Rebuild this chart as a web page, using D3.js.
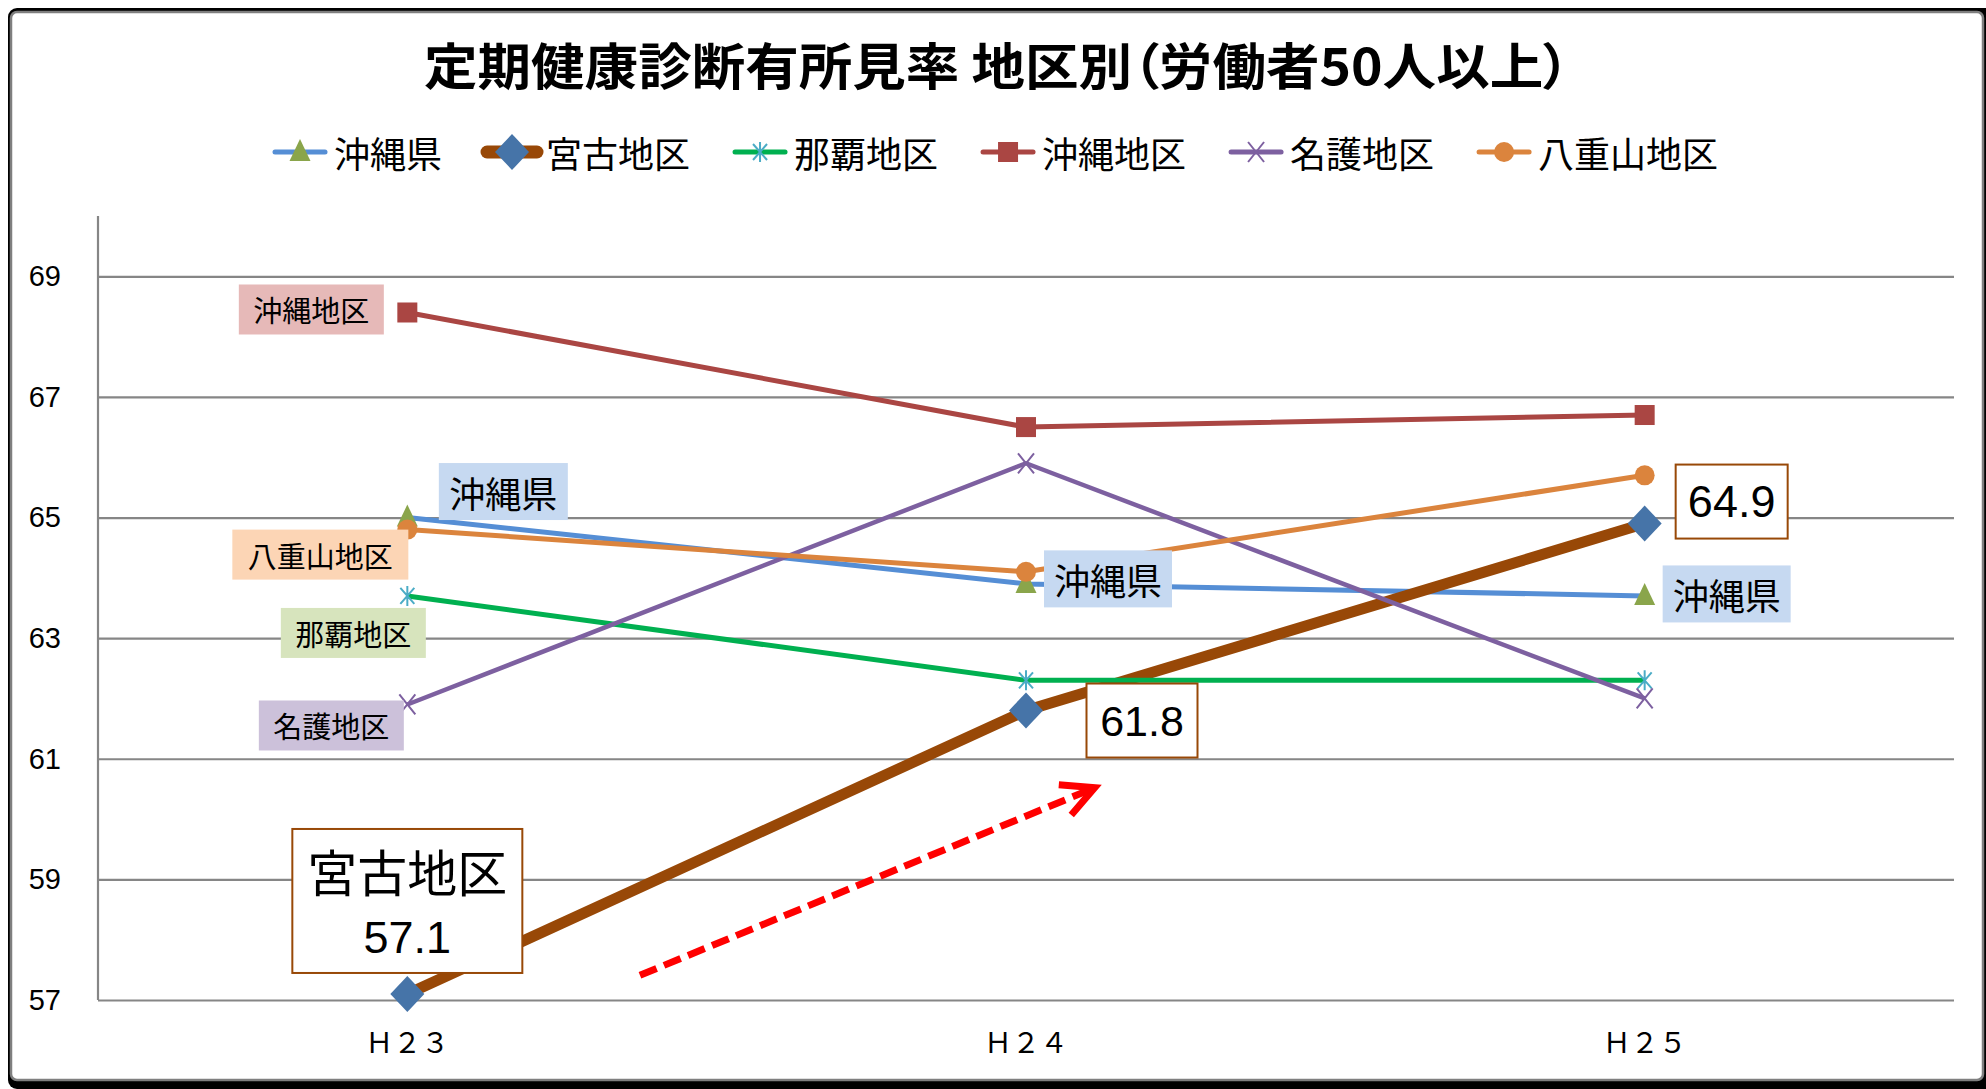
<!DOCTYPE html>
<html><head><meta charset="utf-8">
<script src="https://cdn.jsdelivr.net/npm/d3@7"></script>
<style>
html,body{margin:0;padding:0;background:#fff;}
svg{display:block;}
.cjk{font-family:"Noto Sans CJK JP",sans-serif;}
.num{font-family:"Liberation Sans",Arial,sans-serif;}
</style></head><body>
<svg id="chart" width="1986" height="1089"></svg>
<script>
// ---------- data ----------
const categories = ["Ｈ２３", "Ｈ２４", "Ｈ２５"];
const seriesNames = ["沖縄県", "宮古地区", "那覇地区", "沖縄地区", "名護地区", "八重山地区"];
const okinawaPref = [65.0, 63.9, 63.7];
const miyako      = [57.1, 61.8, 64.9];
const naha        = [63.7, 62.3, 62.3];
const okinawaDist = [68.4, 66.5, 66.7];
const nago        = [61.9, 65.9, 62.0];
const yaeyama     = [64.8, 64.1, 65.7];
const yTicks = [57, 59, 61, 63, 65, 67, 69];
const yDomain = [57, 70];
const titleText = "定期健康診断有所見率 地区別（労働者50人以上）";

const seriesValues = [okinawaPref, miyako, naha, okinawaDist, nago, yaeyama];

// ---------- styles ----------
const styles = [
  {line:"#558ED5", w:5,  marker:"triangle", fill:"#8AA54B"},
  {line:"#984807", w:11, marker:"diamond",  fill:"#4674A8"},
  {line:"#00B050", w:5,  marker:"asterisk", stroke:"#4BACC6"},
  {line:"#AA4643", w:5,  marker:"square",   fill:"#AA4643"},
  {line:"#7D60A0", w:4.5,marker:"x",        stroke:"#7D60A0"},
  {line:"#DB843D", w:5,  marker:"circle",   fill:"#DB843D"}
];

const svg = d3.select("#chart");

// ---------- frame ----------
svg.append("rect").attr("x",8).attr("y",8).attr("width",2000).attr("height",1081).attr("rx",9).attr("fill","#000");
svg.append("rect").attr("x",11).attr("y",12).attr("width",1972).attr("height",1068).attr("rx",6)
   .attr("fill","#fff").attr("stroke","#7f7f7f").attr("stroke-width",2.5);

// ---------- scales ----------
const plot = {left:98, right:1954, top:216, bottom:1000};
const xBand = d3.scaleBand().domain(categories).range([plot.left, plot.right]);
const x = c => xBand(c) + xBand.bandwidth()/2;
const y = d3.scaleLinear().domain(yDomain).range([plot.bottom, plot.top]);

// ---------- gridlines & axes ----------
const yAxis = d3.axisLeft(y).tickValues(yTicks).tickSize(-(plot.right-plot.left)).tickFormat(d3.format("d")).tickPadding(37);
const gy = svg.append("g").attr("transform",`translate(${plot.left},0)`).call(yAxis);
gy.select(".domain").remove();
gy.selectAll(".tick line").attr("stroke","#868686").attr("stroke-width",2.2);
gy.selectAll(".tick text").attr("class","num").attr("font-size",29).attr("fill","#000");
svg.append("line").attr("x1",plot.left).attr("x2",plot.left).attr("y1",plot.top).attr("y2",plot.bottom)
   .attr("stroke","#868686").attr("stroke-width",2.2);

const xAxis = d3.axisBottom(xBand).tickSize(0).tickPadding(33);
const gx = svg.append("g").attr("transform",`translate(0,${plot.bottom})`).call(xAxis);
gx.select(".domain").remove();
gx.selectAll(".tick text").attr("class","cjk").attr("font-size",28).attr("fill","#000");

// ---------- markers ----------
function drawMarker(g, type, st) {
  if (type==="triangle") g.append("path").attr("d","M0,-13L10.5,9L-10.5,9Z").attr("fill",st.fill);
  else if (type==="diamond") g.append("path").attr("d","M0,-18L17,0L0,18L-17,0Z").attr("fill",st.fill);
  else if (type==="square") g.append("rect").attr("x",-10).attr("y",-10).attr("width",20).attr("height",20).attr("fill",st.fill);
  else if (type==="circle") g.append("circle").attr("r",10).attr("fill",st.fill);
  else if (type==="asterisk") g.append("path").attr("d","M0,-10L0,10M-7,-8L7,8M7,-8L-7,8")
       .attr("stroke",st.stroke).attr("stroke-width",2).attr("fill","none");
  else if (type==="x") g.append("path").attr("d","M-8,-10L8,10M8,-10L-8,10")
       .attr("stroke",st.stroke).attr("stroke-width",2).attr("fill","none");
}

// ---------- series ----------
const line = d3.line().x((d,i)=>x(categories[i])).y(d=>y(d));
seriesValues.forEach((vals, si) => {
  const st = styles[si];
  const g = svg.append("g");
  g.append("path").attr("d", line(vals)).attr("fill","none").attr("stroke",st.line)
    .attr("stroke-width",st.w).attr("stroke-linejoin","round");
  vals.forEach((v,i) => {
    const mg = g.append("g").attr("transform",`translate(${x(categories[i])},${y(v)})`);
    drawMarker(mg, st.marker, st);
  });
});

// ---------- red dashed arrow (annotation, in data space) ----------
const step = x(categories[1]) - x(categories[0]);
const ax0 = x(categories[0]) + 0.376*step, ay0 = y(57.41);
const ax1 = x(categories[0]) + 1.111*step, ay1 = y(60.52);
svg.append("line").attr("x1",ax0).attr("y1",ay0).attr("x2",ax1-6).attr("y2",ay1+2.5)
   .attr("stroke","#FF0000").attr("stroke-width",7).attr("stroke-dasharray","18,8");
{
  const ang = Math.atan2(ay0-ay1, ax0-ax1);
  const L = 36, spread = 27*Math.PI/180;
  const p1 = [ax1+L*Math.cos(ang-spread), ay1+L*Math.sin(ang-spread)];
  const p2 = [ax1+L*Math.cos(ang+spread), ay1+L*Math.sin(ang+spread)];
  svg.append("path").attr("d",`M${p1}L${ax1},${ay1}L${p2}`).attr("fill","none")
     .attr("stroke","#FF0000").attr("stroke-width",7).attr("stroke-linejoin","miter");
}

// ---------- data labels ----------
const fmt = d3.format(".1f");
const labelDefs = [
  {s:3, c:0, lines:[{t:"沖縄地区",cls:"cjk",fs:29}], bg:"#E6B9B8", w:145, h:50, dx:-96, dy:-3},
  {s:0, c:0, lines:[{t:"沖縄県",cls:"cjk",fs:36}], bg:"#C6D9F1", w:129, h:57, dx:96, dy:-26},
  {s:5, c:0, lines:[{t:"八重山地区",cls:"cjk",fs:29}], bg:"#FCD5B5", w:176, h:50, dx:-87, dy:25},
  {s:2, c:0, lines:[{t:"那覇地区",cls:"cjk",fs:29}], bg:"#D7E4BD", w:145, h:50, dx:-54, dy:37},
  {s:4, c:0, lines:[{t:"名護地区",cls:"cjk",fs:29}], bg:"#CCC1DA", w:145, h:50, dx:-76, dy:21},
  {s:1, c:0, lines:[{t:seriesNames[1],cls:"cjk",fs:50,oy:-31},{t:fmt(miyako[0]),cls:"num",fs:45,oy:37}], bg:"#fff", border:"#984807", w:230, h:144, dx:0, dy:-93},
  {s:0, c:1, lines:[{t:"沖縄県",cls:"cjk",fs:36}], bg:"#C6D9F1", w:128, h:57, dx:82, dy:-5},
  {s:1, c:1, lines:[{t:fmt(miyako[1]),cls:"num",fs:43}], bg:"#fff", border:"#984807", w:111, h:74, dx:116, dy:10},
  {s:0, c:2, lines:[{t:"沖縄県",cls:"cjk",fs:36}], bg:"#C6D9F1", w:128, h:57, dx:82, dy:-2},
  {s:1, c:2, lines:[{t:fmt(miyako[2]),cls:"num",fs:45}], bg:"#fff", border:"#984807", w:112, h:74, dx:87, dy:-22}
];
labelDefs.forEach(L => {
  const px = x(categories[L.c]) + L.dx, py = y(seriesValues[L.s][L.c]) + L.dy;
  const g = svg.append("g").attr("transform",`translate(${px},${py})`);
  g.append("rect").attr("x",-L.w/2).attr("y",-L.h/2).attr("width",L.w).attr("height",L.h)
    .attr("fill",L.bg).attr("stroke",L.border||"none").attr("stroke-width",L.border?2:0);
  L.lines.forEach(ln => {
    g.append("text").attr("class",ln.cls).attr("x",0).attr("y",(ln.oy||0))
      .attr("text-anchor","middle").attr("dominant-baseline","central")
      .attr("font-size",ln.fs).attr("fill","#000").text(ln.t);
  });
});

// ---------- title ----------
svg.append("text").attr("class","cjk").attr("x",997).attr("y",85).attr("text-anchor","middle")
  .attr("font-size",50).attr("font-weight","bold").attr("fill","#000")
  .attr("textLength",1146).attr("lengthAdjust","spacingAndGlyphs")
  .style("font-feature-settings","'palt'")
  .text(titleText);

// ---------- legend ----------
let lx = 272;
const ly = 152;
seriesNames.forEach((name, si) => {
  const st = styles[si];
  const g = svg.append("g");
  g.append("line").attr("x1",lx+3).attr("x2",lx+53).attr("y1",ly).attr("y2",ly)
    .attr("stroke",st.line).attr("stroke-width",si===1?13:5).attr("stroke-linecap","round");
  const mg = g.append("g").attr("transform",`translate(${lx+28},${ly})`);
  drawMarker(mg, st.marker, st);
  const t = g.append("text").attr("class","cjk").attr("x",lx+62).attr("y",ly)
    .attr("dominant-baseline","central").attr("font-size",36).attr("fill","#000").text(name);
  lx += 62 + t.node().getComputedTextLength() + 42;
});
</script>
</body></html>
